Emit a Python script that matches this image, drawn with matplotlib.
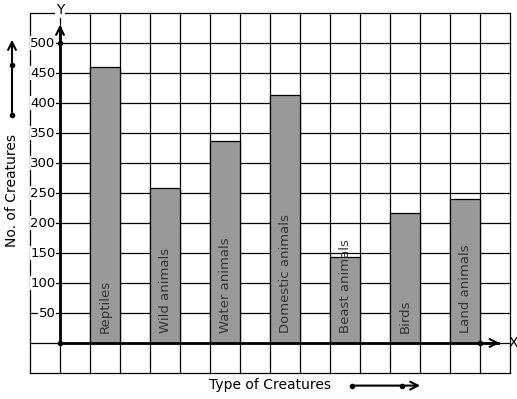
import matplotlib
matplotlib.use("Agg")
import matplotlib.pyplot as plt

creatures = ["Reptiles", "Wild animals", "Water animals", "Domestic animals",
             "Beast animals", "Birds", "Land animals"]
counts = [460, 258, 337, 413, 143, 216, 240]
ticks = [50, 100, 150, 200, 250, 300, 350, 400, 450, 500]

# one grid cell = 1 unit across, 50 creatures up
fig = plt.figure(figsize=(5.17, 3.99), dpi=100)
ax = fig.add_axes([0, 0, 1, 1])
ax.set_xlim(-2, 15.233)
ax.set_ylim(-93.33, 571.67)
ax.axis("off")

for u in range(-1, 16):
    ax.plot([u, u], [-50, 550], color="black", lw=0.9, zorder=1)
for v in range(-50, 551, 50):
    ax.plot([-1, 15], [v, v], color="black", lw=0.9, zorder=1)

for i, (name, n) in enumerate(zip(creatures, counts)):
    x = 1 + 2 * i
    ax.bar(x, n, width=1, align="edge", color="#999999", edgecolor="black",
           lw=0.9, zorder=2)
    ax.text(x + 0.5, 17, name, rotation=90, ha="center", va="bottom",
            fontsize=9.5, color="#333333", zorder=3)

# axes with arrows
ax.plot([0, 14.6], [0, 0], color="black", lw=2, zorder=4)
ax.plot([0, 0], [0, 525], color="black", lw=2, zorder=4)
ax.annotate("", xy=(14.75, 0), xytext=(14.0, 0),
            arrowprops=dict(arrowstyle="->", lw=1.5, mutation_scale=14), zorder=5)
ax.annotate("", xy=(0, 535), xytext=(0, 490),
            arrowprops=dict(arrowstyle="->", lw=1.5, mutation_scale=14), zorder=5)
ax.plot([0, 0, 14], [0, 500, 0], "o", color="black", ms=3, zorder=5)
ax.text(14.95, 0, "X", ha="left", va="center", fontsize=10)
ax.text(0, 555, "Y", ha="center", va="center", fontsize=10,
        bbox=dict(facecolor="white", edgecolor="none", pad=0.5))

for t in ticks:
    ax.text(-0.15, t, str(t), ha="right", va="center", fontsize=9.5,
            bbox=dict(facecolor="white", edgecolor="none", pad=0.3), zorder=3)

# side labels
ax.text(-1.6, 255, "No. of Creatures", rotation=90, ha="center", va="center",
        fontsize=10)
ax.annotate("", xy=(-1.6, 510), xytext=(-1.6, 380),
            arrowprops=dict(arrowstyle="->", lw=1.5, mutation_scale=14))
ax.plot([-1.6, -1.6], [380, 463], "o", color="black", ms=3)

ax.text(7, -70, "Type of Creatures", ha="center", va="center", fontsize=10)
ax.annotate("", xy=(12.1, -71), xytext=(9.73, -71),
            arrowprops=dict(arrowstyle="->", lw=1.5, mutation_scale=14))
ax.plot([9.73, 11.4], [-71, -71], "o", color="black", ms=3)

fig.savefig("out.png", dpi=100)
